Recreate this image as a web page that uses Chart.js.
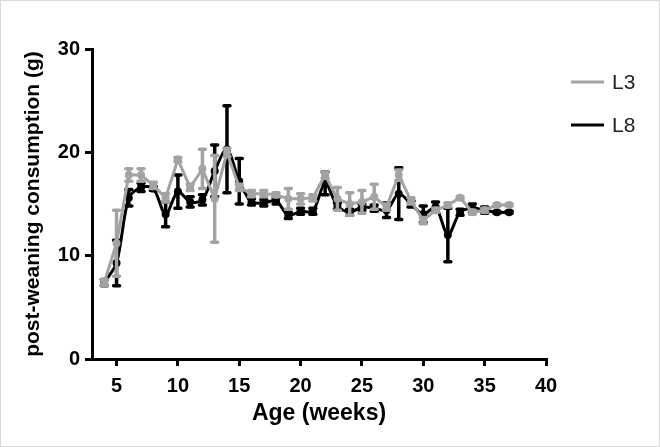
<!DOCTYPE html>
<html>
<head>
<meta charset="utf-8">
<script src="https://cdn.jsdelivr.net/npm/chart.js@4.4.1/dist/chart.umd.min.js"></script>
<style>
  html, body { margin: 0; padding: 0; background: #fff; }
  #wrap { position: relative; width: 660px; height: 447px; }
  #wrap:after { content: ''; position: absolute; left: 0; top: 0; right: 0; bottom: 0; border: 1px solid #d9d9d9; pointer-events: none; }
  canvas { display: block; }
</style>
</head>
<body>
<div id="wrap"><canvas id="consumptionChart" width="660" height="447"></canvas></div>
<script>
const grayColor = '#a3a3a3';
const blackColor = '#000000';

// 週齡與刻度
const weeks = [4, 5, 6, 7, 8, 9, 10, 11, 12, 13, 14, 15, 16, 17, 18, 19, 20,
  21, 22, 23, 24, 25, 26, 27, 28, 29, 30, 31, 32, 33, 34, 35, 36, 37];
const xTicks = [5, 10, 15, 20, 25, 30, 35, 40];
const yTicks = [0, 10, 20, 30];

// L3 平均值與誤差
const l3Mean = [7.4, 11.2, 17.8, 17.8, 16.8, 15.6, 19.3, 16.6, 18.4, 15.5, 20.0, 16.6, 16.0, 16.0, 15.9, 15.5, 15.5,
  15.6, 17.8, 15.5, 15.0, 15.2, 15.7, 14.7, 17.8, 15.3, 13.4, 14.4, 14.9, 15.6, 14.2, 14.4, 14.9, 14.9];
const l3Err = [0.3, 3.2, 0.6, 0.6, 0.3, 0.4, 0.2, 0.3, 1.9, 4.2, 0.4, 0.3, 0.3, 0.3, 0.2, 1.0, 0.5,
  0.3, 0.3, 1.1, 1.1, 1.1, 1.2, 0.3, 0.5, 0.3, 0.3, 0.2, 0.2, 0.1, 0.2, 0.2, 0.1, 0.1];

// L8 平均值與誤差
const l8Mean = [7.4, 9.3, 15.6, 16.6, 16.5, 14.0, 16.2, 15.2, 15.4, 18.2, 20.3, 17.2, 15.2, 15.1, 15.3, 13.9, 14.3,
  14.3, 17.0, 14.8, 14.2, 14.7, 14.6, 14.4, 16.0, 15.0, 14.0, 14.7, 12.0, 14.2, 14.6, 14.4, 14.2, 14.2];
const l8Err = [0.3, 2.2, 0.8, 0.4, 0.2, 1.2, 1.6, 0.5, 0.5, 2.5, 4.2, 2.2, 0.3, 0.3, 0.3, 0.3, 0.3,
  0.3, 1.1, 0.3, 0.3, 0.3, 0.3, 0.7, 2.5, 0.3, 0.8, 0.5, 2.6, 0.3, 0.4, 0.3, 0.1, 0.1];

const toPoints = (means) => weeks.map((w, i) => ({ x: w, y: means[i] }));

// 誤差線
const errorBars = {
  id: 'errorBars',
  afterDatasetDraw(chart, args) {
    const ds = chart.data.datasets[args.index];
    const yScale = chart.scales.y;
    const ctx = chart.ctx;
    ctx.save();
    ctx.strokeStyle = ds.borderColor;
    ctx.lineWidth = 3.5;
    ctx.lineCap = 'round';
    args.meta.data.forEach((pt, i) => {
      const v = ds.data[i].y;
      const e = ds.errors[i];
      const top = yScale.getPixelForValue(v + e);
      const bot = yScale.getPixelForValue(v - e);
      ctx.beginPath();
      ctx.moveTo(pt.x, top); ctx.lineTo(pt.x, bot);
      ctx.moveTo(pt.x - 3, top); ctx.lineTo(pt.x + 3, top);
      ctx.moveTo(pt.x - 3, bot); ctx.lineTo(pt.x + 3, bot);
      ctx.stroke();
    });
    ctx.restore();
  }
};

// 右側圖例
const sideLegend = {
  id: 'sideLegend',
  afterDraw(chart) {
    const ctx = chart.ctx;
    ctx.save();
    ctx.font = '21px "Liberation Sans", Arial, sans-serif';
    ctx.textBaseline = 'middle';
    chart.data.datasets.forEach((ds, i) => {
      const y = 82 + i * 43;
      ctx.strokeStyle = ds.borderColor;
      ctx.lineWidth = 3;
      ctx.beginPath();
      ctx.moveTo(571, y); ctx.lineTo(604, y);
      ctx.stroke();
      ctx.fillStyle = '#222';
      ctx.fillText(ds.label, 612, y + 1);
    });
    ctx.restore();
  }
};

const ctx = document.getElementById('consumptionChart').getContext('2d');
new Chart(ctx, {
  type: 'line',
  data: {
    datasets: [{
      label: 'L3',
      data: toPoints(l3Mean),
      errors: l3Err,
      borderColor: grayColor,
      backgroundColor: grayColor,
      borderWidth: 3,
      pointRadius: 2.5,
      tension: 0
    }, {
      label: 'L8',
      data: toPoints(l8Mean),
      errors: l8Err,
      borderColor: blackColor,
      backgroundColor: blackColor,
      borderWidth: 3,
      pointRadius: 2.5,
      tension: 0.3
    }]
  },
  options: {
    responsive: false,
    animation: false,
    layout: { padding: { left: 0, top: 49, right: 114, bottom: 0 } },
    plugins: {
      legend: { display: false },
      tooltip: { enabled: false }
    },
    scales: {
      x: {
        type: 'linear',
        min: 3,
        max: 40,
        afterBuildTicks: (scale) => { scale.ticks = xTicks.map(v => ({ value: v })); },
        afterFit: (scale) => { scale.height = 88; },
        grid: { drawOnChartArea: false, drawTicks: true, tickLength: 7, lineWidth: 3, color: '#000' },
        border: { display: true, width: 3, color: '#000' },
        ticks: {
          color: '#000',
          padding: 8,
          maxRotation: 0,
          font: { family: '"Liberation Sans", Arial, sans-serif', size: 20, weight: 'bold' }
        },
        title: {
          display: true,
          text: 'Age (weeks)',
          color: '#000',
          padding: { top: 0, bottom: 20 },
          font: { family: '"Liberation Sans", Arial, sans-serif', size: 23, weight: 'bold' }
        }
      },
      y: {
        min: 0,
        max: 30,
        afterBuildTicks: (scale) => { scale.ticks = yTicks.map(v => ({ value: v })); },
        afterFit: (scale) => { scale.width = 92; },
        grid: { drawOnChartArea: false, drawTicks: true, tickLength: 7, lineWidth: 3, color: '#000' },
        border: { display: true, width: 3, color: '#000' },
        ticks: {
          color: '#000',
          padding: 5,
          font: { family: '"Liberation Sans", Arial, sans-serif', size: 20, weight: 'bold' }
        },
        title: {
          display: true,
          text: 'post-weaning consumption (g)',
          color: '#000',
          padding: { top: 21, bottom: 0 },
          font: { family: '"Liberation Sans", Arial, sans-serif', size: 21, weight: 'bold' }
        }
      }
    }
  },
  plugins: [errorBars, sideLegend]
});
</script>
</body>
</html>
